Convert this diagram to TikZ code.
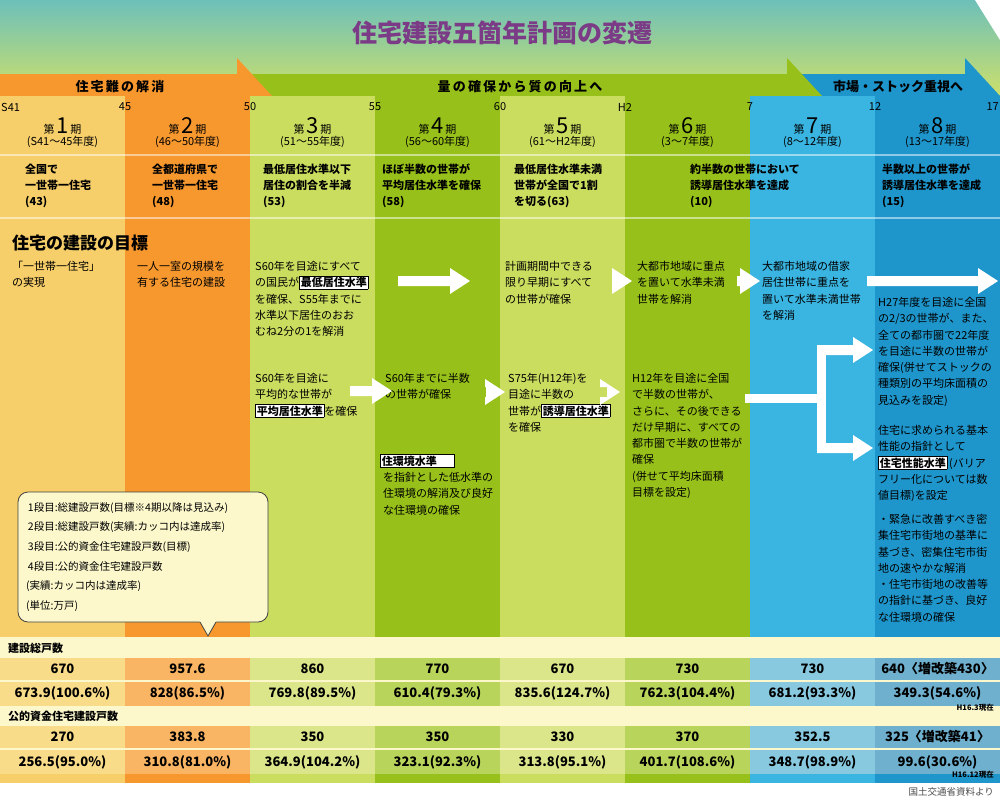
\documentclass[tikz,border=0pt]{standalone}
\usepackage{fontspec}
\setmainfont{Noto Sans CJK JP}
\usetikzlibrary{shapes.geometric}
\definecolor{cA}{HTML}{F7CF6A}
\definecolor{cB}{HTML}{F7982F}
\definecolor{cC}{HTML}{CADD5F}
\definecolor{cD}{HTML}{97C11A}
\definecolor{cE}{HTML}{3AB4E0}
\definecolor{cF}{HTML}{1E96CC}
\definecolor{tA}{HTML}{F9DC8A}
\definecolor{tB}{HTML}{F9B563}
\definecolor{tC}{HTML}{DBE68A}
\definecolor{tD}{HTML}{B9D45A}
\definecolor{tE}{HTML}{88C9E0}
\definecolor{tF}{HTML}{6FB0CF}
\definecolor{cream}{HTML}{FCF8CC}
\definecolor{ttl}{HTML}{7B3B86}
\definecolor{topc}{HTML}{6DC0BA}
\definecolor{botc}{HTML}{CDE06A}
\newcommand{\hlw}[1]{{\setlength\fboxsep{0.8pt}\setlength\fboxrule{0.8pt}\fcolorbox{black}{white}{\bfseries #1}}}
\newcommand{\blkarrow}[3]{\fill[white] (#1,#3-5) -- (#2-20,#3-5) -- (#2-20,#3-13) -- (#2,#3) -- (#2-20,#3+13) -- (#2-20,#3+5) -- (#1,#3+5) -- cycle;}
\begin{document}
\begin{tikzpicture}[x=1pt,y=-1pt,
  txt/.style={anchor=north west,align=left,inner sep=0pt,font=\fontsize{11}{16.3}\selectfont},
  goal/.style={anchor=north west,align=left,inner sep=0pt,font=\fontsize{11}{16}\selectfont\bfseries},
  yr/.style={inner sep=0pt,font=\fontsize{11}{12}\selectfont},
  per/.style={inner sep=0pt,font=\fontsize{11}{12}\selectfont},
  num/.style={inner sep=0pt,font=\fontsize{13}{14}\selectfont\bfseries},
  band/.style={inner sep=0pt,font=\fontsize{13}{14}\selectfont\bfseries},
  thd/.style={anchor=west,inner sep=0pt,font=\fontsize{11}{12}\selectfont\bfseries}]
\useasboundingbox (0,0) rectangle (1000,800);
\fill[white] (0,0) rectangle (1000,800);
\shade[top color=topc,bottom color=botc] (0,0) rectangle (1000,96);
\fill[white] (975,0) -- (1000,0) -- (1000,40) -- cycle;
\node[inner sep=0pt,text=ttl,font=\fontsize{25}{26}\selectfont\bfseries] (title) at (502,33) {住宅建設五箇年計画の変遷};
% bands
\fill[cF] (780,74) -- (965,74) -- (965,58) -- (1000,96) -- (780,96) -- cycle;
\fill[cD] (237,74) -- (787,74) -- (787,58) -- (822,96) -- (237,96) -- cycle;
\fill[cB] (0,74) -- (237,74) -- (237,58) -- (272,96) -- (0,96) -- cycle;
\node[band] (b1) at (120,87) {住\,宅\,難\,の\,解\,消};
\node[band] (b2) at (520,87) {量\,の\,確\,保\,か\,ら\,質\,の\,向\,上\,へ};
\node[band] (b3) at (898,87) {市場・ストック重視へ};
% columns
\foreach \i/\c in {0/cA,1/cB,2/cC,3/cD,4/cC,5/cD,6/cE,7/cF}
  \fill[\c] (125*\i,96) rectangle (125*\i+125,637);
\fill[white,opacity=0.5] (0,154) rectangle (1000,156);
\fill[white,opacity=0.5] (0,217) rectangle (1000,219);
% year marks
\node[yr,anchor=west] (y0) at (1,107) {S41};
\foreach \t [count=\k] in {45,50,55,60,H2,7,12}
  \node[yr] (y\k) at (125*\k,107) {\t};
\node[yr,anchor=east] (y8) at (999,107) {17};
% periods
\foreach \n/\r [count=\k from 0] in {1/(S41～45年度),2/(46～50年度),3/(51～55年度),4/(56～60年度),5/(61～H2年度),6/(3～7年度),7/(8～12年度),8/(13～17年度)}{
  \node[per] (p\k) at (125*\k+62.5,126) {第\,{\fontsize{22}{22}\selectfont\n}\,期};
  \node[per] (q\k) at (125*\k+62.5,142) {\r};
}
% goals
\node[goal] (g1) at (25,164) {全国で\\一世帯一住宅\\(43)};
\node[goal] (g2) at (152,164) {全都道府県で\\一世帯一住宅\\(48)};
\node[goal] (g3) at (263,164) {最低居住水準以下\\居住の割合を半減\\(53)};
\node[goal] (g4) at (382,164) {ほぼ半数の世帯が\\平均居住水準を確保\\(58)};
\node[goal] (g5) at (514,164) {最低居住水準未満\\世帯が全国で1割\\を切る(63)};
\node[goal] (g6) at (690,164) {約半数の世帯において\\誘導居住水準を達成\\(10)};
\node[goal] (g8) at (882,164) {半数以上の世帯が\\誘導居住水準を達成\\(15)};
\node[anchor=west,inner sep=0pt,font=\fontsize{17}{18}\selectfont\bfseries] (mk) at (12,243) {住宅の建設の目標};
% goal texts
\node[txt] (t1) at (12,261) {「一世帯一住宅」\\の実現};
\node[txt] (t2) at (137,261) {一人一室の規模を\\有する住宅の建設};
\node[txt] (t3) at (255,261) {S60年を目途にすべて\\の国民が\hlw{最低居住水準}\\を確保、S55年までに\\水準以下居住のおお\\むね2分の1を解消};
\node[txt] (t3b) at (255,373) {S60年を目途に\\平均的な世帯が\\\hlw{平均居住水準}を確保};
\node[txt] (t4b) at (385,373) {S60年までに半数\\の世帯が確保};
\node[txt] (t4c) at (380,454) {\hlw{住環境水準\hspace{1.5em}}\\\hspace{3pt}を指針とした低水準の\\\hspace{3pt}住環境の解消及び良好\\\hspace{3pt}な住環境の確保};
\node[txt] (t5) at (505,261) {計画期間中できる\\限り早期にすべて\\の世帯が確保};
\node[txt] (t5b) at (508,373) {S75年(H12年)を\\目途に半数の\\世帯が\hlw{誘導居住水準}\\を確保};
\node[txt] (t6) at (637,261) {大都市地域に重点\\を置いて水準未満\\世帯を解消};
\node[txt] (t6b) at (632,373) {H12年を目途に全国\\で半数の世帯が、\\さらに、その後できる\\だけ早期に、すべての\\都市圏で半数の世帯が\\確保\\(併せて平均床面積\\目標を設定)};
\node[txt] (t7) at (762,261) {大都市地域の借家\\居住世帯に重点を\\置いて水準未満世帯\\を解消};
\node[txt] (t8a) at (878,297) {H27年度を目途に全国\\の2/3の世帯が、また、\\全ての都市圏で22年度\\を目途に半数の世帯が\\確保(併せてストックの\\種類別の平均床面積の\\見込みを設定)};
\node[txt] (t8b) at (878,425) {住宅に求められる基本\\性能の指針として\\\hlw{住宅性能水準}\,(バリア\\フリー化については数\\値目標)を設定};
\node[txt] (t8c) at (878,514) {・緊急に改善すべき密\\集住宅市街地の基準に\\基づき、密集住宅市街\\地の速やかな解消\\・住宅市街地の改善等\\の指針に基づき、良好\\な住環境の確保};
% arrows
\blkarrow{398}{470}{281}
\blkarrow{612}{632}{281}
\blkarrow{737}{760}{281}
\blkarrow{867}{998}{281}
\blkarrow{350}{392}{391}
\blkarrow{486}{505}{392}
\blkarrow{607}{620}{392}
\fill[white] (745,394) rectangle (822,403);
\fill[white] (817,345) rectangle (826,453);
\blkarrow{817}{873}{350}
\blkarrow{817}{873}{448}
% callout
\draw[fill=cream,draw=black!75,line width=0.8pt,rounded corners=10pt] (18,492) rectangle (268,622);
\fill[cream] (199,620) -- (217,620) -- (208,636) -- cycle;
\draw[black!75,line width=0.8pt] (200,622) -- (208,636) -- (216,622);
\node[anchor=north west,align=left,inner sep=0pt,font=\fontsize{10.5}{19.7}\selectfont] (leg) at (26,502) {\,1段目:総建設戸数(目標※4期以降は見込み)\\\,2段目:総建設戸数(実績:カッコ内は達成率)\\\,3段目:公的資金住宅建設戸数(目標)\\\,4段目:公的資金住宅建設戸数\\(実績:カッコ内は達成率)\\(単位:万戸)};
% table
\fill[cream] (0,637) rectangle (1000,781);
\foreach \i/\c/\d in {0/tA/cA,1/tB/cB,2/tC/cC,3/tD/cD,4/tC/cC,5/tD/cD,6/tE/cE,7/tF/cF}{
  \fill[\c] (125*\i,658) rectangle (125*\i+125,680);
  \fill[\c] (125*\i,682) rectangle (125*\i+125,706);
  \fill[\c] (125*\i,726) rectangle (125*\i+125,748);
  \fill[\c] (125*\i,750) rectangle (125*\i+125,774);
  \fill[\d] (125*\i,774) rectangle (125*\i+125,783);
}
\node[thd] (h1) at (8,648) {建設総戸数};
\node[thd] (h2) at (8,716) {公的資金住宅建設戸数};
\foreach \a/\b/\c/\d [count=\k from 0] in {670/673.9(100.6\%)/270/256.5(95.0\%),957.6/828(86.5\%)/383.8/310.8(81.0\%),860/769.8(89.5\%)/350/364.9(104.2\%),770/610.4(79.3\%)/350/323.1(92.3\%),670/835.6(124.7\%)/330/313.8(95.1\%),730/762.3(104.4\%)/370/401.7(108.6\%),730/681.2(93.3\%)/352.5/348.7(98.9\%),640〈増改築430〉/349.3(54.6\%)/325〈増改築41〉/99.6(30.6\%)}{
  \node[num] (ra\k) at (125*\k+62.5,669) {\a};
  \node[num] (rb\k) at (125*\k+62.5,693) {\b};
  \node[num] (rc\k) at (125*\k+62.5,737) {\c};
  \node[num] (rd\k) at (125*\k+62.5,762) {\d};
}
\node[anchor=east,inner sep=0pt,font=\fontsize{7.5}{8}\selectfont\bfseries] (n1) at (994,708) {H16.3現在};
\node[anchor=east,inner sep=0pt,font=\fontsize{7.5}{8}\selectfont\bfseries] (n2) at (994,775) {H16.12現在};
\node[anchor=east,inner sep=0pt,text=black!70,font=\fontsize{9.5}{10}\selectfont] (src) at (994,792) {国土交通省資料より};
\end{tikzpicture}
\end{document}
